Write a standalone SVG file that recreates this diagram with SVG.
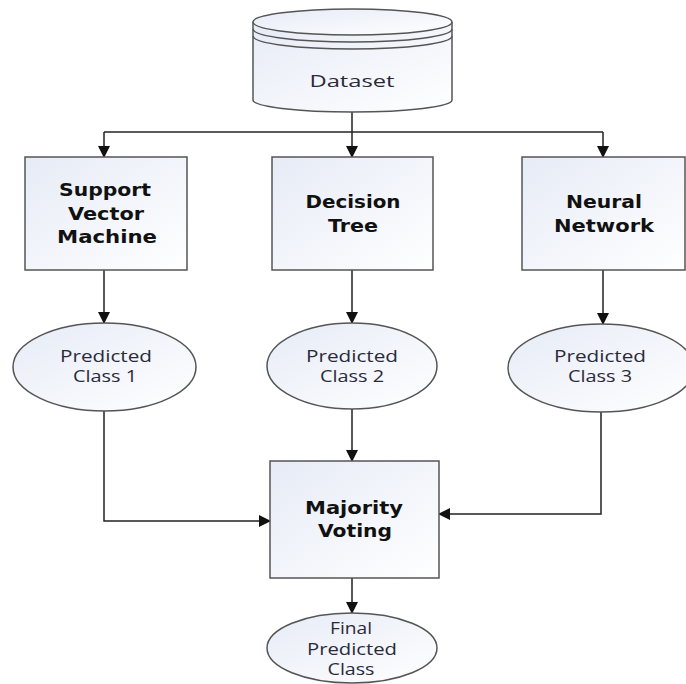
<svg xmlns="http://www.w3.org/2000/svg" width="686" height="684" viewBox="0 0 686 684">
<defs>
<linearGradient id="g" x1="0" y1="0" x2="1" y2="1">
<stop offset="0" stop-color="#e6ebf6"/>
<stop offset="1" stop-color="#ffffff"/>
</linearGradient>
<marker id="ah" markerUnits="userSpaceOnUse" markerWidth="12" markerHeight="12" refX="11" refY="6" orient="auto">
<path d="M0,0 L12,6 L0,12 z" fill="#111"/>
</marker>
<style>
.shape{fill:url(#g);stroke:#555;stroke-width:1.5}
.band{fill:none;stroke:#555;stroke-width:1.5}
.conn{fill:none;stroke:#222;stroke-width:1.5}
.arr{marker-end:url(#ah)}
.b{font-family:"DejaVu Sans","Open Sans",sans-serif;font-weight:bold;font-size:18px;fill:#111;text-anchor:middle}
.r{font-family:"Open Sans","DejaVu Sans",sans-serif;font-size:16px;fill:#2a2a3a;text-anchor:middle}
</style>
</defs>
<rect width="686" height="684" fill="#fff"/>
<g id="connectors">
<path class="conn arr" d="M352,112 L352,157"/>
<path class="conn" d="M104,132 L603,132"/>
<path class="conn arr" d="M104,132 L104,157"/>
<path class="conn arr" d="M603,132 L603,157"/>
<path class="conn arr" d="M104,270 L104,323"/>
<path class="conn arr" d="M352,270 L352,323"/>
<path class="conn arr" d="M603,270 L603,324"/>
<path class="conn arr" d="M104,410 L104,521 L270,521"/>
<path class="conn arr" d="M352,408 L352,461"/>
<path class="conn arr" d="M601,411 L601,514 L439,514"/>
<path class="conn arr" d="M352,578 L352,613"/>
</g>
<g id="dataset">
<path class="shape" d="M253,22 L253,100 A99.5,12 0 0 0 452,100 L452,22"/>
<ellipse class="shape" cx="352.5" cy="22" rx="99.5" ry="13"/>
<path class="band" d="M253,29 A99.5,13 0 0 0 452,29"/>
<path class="band" d="M253,36 A99.5,13 0 0 0 452,36"/>
<text class="r" x="352" y="87" font-size="18" textLength="85" lengthAdjust="spacingAndGlyphs">Dataset</text>
</g>
<g id="svm">
<rect class="shape" x="25" y="157" width="162" height="113"/>
<text class="b" x="105" y="196" textLength="92" lengthAdjust="spacingAndGlyphs">Support</text>
<text class="b" x="106" y="220" textLength="76" lengthAdjust="spacingAndGlyphs">Vector</text>
<text class="b" x="107" y="243" textLength="100" lengthAdjust="spacingAndGlyphs">Machine</text>
</g>
<g id="dt">
<rect class="shape" x="272" y="157" width="161" height="113"/>
<text class="b" x="353" y="208" textLength="95" lengthAdjust="spacingAndGlyphs">Decision</text>
<text class="b" x="353" y="232" textLength="50" lengthAdjust="spacingAndGlyphs">Tree</text>
</g>
<g id="nn">
<rect class="shape" x="522" y="157" width="163" height="113"/>
<text class="b" x="604" y="208" textLength="76" lengthAdjust="spacingAndGlyphs">Neural</text>
<text class="b" x="604" y="232" textLength="100" lengthAdjust="spacingAndGlyphs">Network</text>
</g>
<g id="pc1">
<ellipse class="shape" cx="104.5" cy="367" rx="91.5" ry="44"/>
<text class="r" x="106" y="362" textLength="92" lengthAdjust="spacingAndGlyphs">Predicted</text>
<text class="r" x="105" y="382" textLength="64" lengthAdjust="spacingAndGlyphs">Class 1</text>
</g>
<g id="pc2">
<ellipse class="shape" cx="352" cy="366" rx="85" ry="43"/>
<text class="r" x="352" y="362" textLength="92" lengthAdjust="spacingAndGlyphs">Predicted</text>
<text class="r" x="352" y="382" textLength="64" lengthAdjust="spacingAndGlyphs">Class 2</text>
</g>
<g id="pc3">
<ellipse class="shape" cx="601" cy="368" rx="93" ry="44"/>
<text class="r" x="600" y="362" textLength="92" lengthAdjust="spacingAndGlyphs">Predicted</text>
<text class="r" x="600" y="382" textLength="64" lengthAdjust="spacingAndGlyphs">Class 3</text>
</g>
<g id="mv">
<rect class="shape" x="270" y="461" width="169" height="117"/>
<text class="b" x="354" y="514" textLength="98" lengthAdjust="spacingAndGlyphs">Majority</text>
<text class="b" x="355" y="537" textLength="74" lengthAdjust="spacingAndGlyphs">Voting</text>
</g>
<g id="final">
<ellipse class="shape" cx="352" cy="648" rx="85" ry="35"/>
<text class="r" x="351" y="634" textLength="42" lengthAdjust="spacingAndGlyphs">Final</text>
<text class="r" x="352" y="655" textLength="90" lengthAdjust="spacingAndGlyphs">Predicted</text>
<text class="r" x="351" y="675" textLength="47" lengthAdjust="spacingAndGlyphs">Class</text>
</g>
</svg>
